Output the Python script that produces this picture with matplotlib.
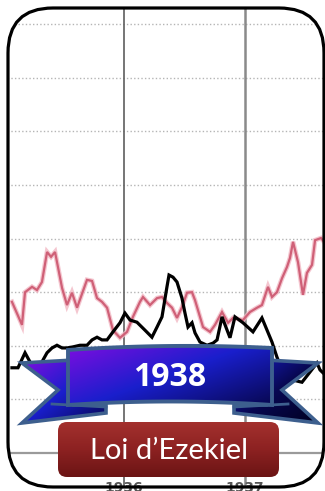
import numpy as np
import matplotlib
matplotlib.use("Agg")
import matplotlib.pyplot as plt
from matplotlib.patches import FancyBboxPatch, Polygon

# weekly index, two series (decimal years / index value)
rose_x = [1935.074, 1935.157, 1935.182, 1935.240, 1935.281, 1935.322, 1935.364, 1935.397,
          1935.430, 1935.488, 1935.529, 1935.570, 1935.612, 1935.694, 1935.736, 1935.777,
          1935.818, 1935.860, 1935.909, 1935.967, 1936.025, 1936.074, 1936.132, 1936.157,
          1936.215, 1936.273, 1936.314, 1936.355, 1936.397, 1936.438, 1936.479, 1936.521,
          1936.562, 1936.587, 1936.628, 1936.653, 1936.711, 1936.752, 1936.810, 1936.860,
          1936.901, 1936.983, 1937.041, 1937.099, 1937.140, 1937.190, 1937.223, 1937.264,
          1937.306, 1937.347, 1937.372, 1937.397, 1937.438, 1937.479, 1937.512, 1937.554,
          1937.579, 1937.628, 1937.661]
rose_y = [28.2, 23.9, 30.0, 31.0, 30.4, 31.9, 37.5, 36.6,
          37.5, 30.8, 27.6, 29.9, 27.1, 32.3, 32.1, 28.9,
          28.2, 27.1, 22.9, 21.5, 22.6, 25.4, 28.2, 29.1,
          27.6, 28.9, 29.1, 28.0, 27.1, 25.2, 27.2, 29.9,
          30.0, 28.5, 25.4, 23.5, 22.6, 23.9, 26.3, 24.3,
          25.2, 24.8, 26.3, 27.1, 27.6, 31.0, 29.1, 30.0,
          32.6, 34.7, 36.4, 39.4, 35.6, 29.5, 33.6, 35.1,
          39.7, 40.1, 39.2]

noir_x = [1935.074, 1935.124, 1935.182, 1935.223, 1935.264, 1935.289, 1935.322, 1935.364,
          1935.405, 1935.446, 1935.488, 1935.529, 1935.579, 1935.636, 1935.694, 1935.736,
          1935.777, 1935.818, 1935.860, 1935.909, 1935.967, 1936.008, 1936.050, 1936.107,
          1936.174, 1936.231, 1936.273, 1936.314, 1936.355, 1936.372, 1936.405, 1936.438,
          1936.479, 1936.504, 1936.529, 1936.562, 1936.587, 1936.628, 1936.686, 1936.736,
          1936.769, 1936.810, 1936.876, 1936.917, 1936.983, 1937.066, 1937.140, 1937.223,
          1937.264, 1937.306, 1937.397, 1937.471, 1937.537, 1937.595, 1937.620, 1937.661]
noir_y = [15.9, 15.9, 18.7, 17.0, 15.9, 15.5, 17.0, 18.7,
          19.6, 20.1, 19.6, 19.6, 19.8, 20.1, 20.1, 21.1,
          21.6, 21.1, 21.1, 22.6, 24.3, 26.1, 24.8, 24.4,
          22.9, 21.6, 23.5, 25.4, 31.0, 33.2, 32.8, 31.9,
          28.9, 26.1, 23.5, 24.3, 22.4, 20.7, 20.1, 20.5,
          21.1, 25.4, 21.5, 25.4, 24.3, 22.6, 25.2, 20.7,
          17.9, 15.5, 13.6, 13.2, 15.1, 16.8, 15.5, 14.6]

annees = [1936, 1937]
grille = [10, 20, 30, 40, 50, 60, 70, 80]
titre = "1938"
bouton = "Loi d\u2019Ezekiel"

W, H = 325, 491
fig = plt.figure(figsize=(W / 100, H / 100), dpi=100)

# pixel-space layer for the card, ribbon and button
deco = fig.add_axes([0, 0, 1, 1], zorder=2)
deco.set_xlim(0, W)
deco.set_ylim(H, 0)
deco.axis("off")
deco.patch.set_alpha(0)

carte = FancyBboxPatch((8, 8), 316, 479, boxstyle="round,pad=0,rounding_size=45",
                       transform=deco.transData, facecolor="none", edgecolor="black", lw=2.3)

# chart layer
ax = fig.add_axes([0, 0, 1, 1], zorder=1)
px2x = lambda p: 1936 + (p - 124) / 121
px2y = lambda p: (453 - p) / 5.36
ax.set_xlim(px2x(0), px2x(W))
ax.set_ylim(px2y(H), px2y(0))
ax.axis("off")

clip_card = FancyBboxPatch((8, 8), 316, 479, boxstyle="round,pad=0,rounding_size=45",
                           transform=deco.transData, facecolor="none")

arts = []
for g in grille:
    arts.append(ax.axhline(g, color="#b5b5b5", lw=1.0, ls=(0, (1, 1.6))))
arts.append(ax.axhline(0, color="#9a9a9a", lw=1.6))
arts.append(ax.axvline(annees[0], color="#5e5e5e", lw=1.2))
arts.append(ax.axvline(annees[1], color="#8a8a8a", lw=1.8))
arts += ax.plot(rose_x, rose_y, color="#f2b8c4", lw=3.4, solid_joinstyle="miter", alpha=0.8)
arts += ax.plot(rose_x, rose_y, color="#cf6077", lw=1.6, solid_joinstyle="miter")
arts += ax.plot(noir_x, noir_y, color="black", lw=2.3, solid_joinstyle="miter")
for a in annees:
    arts.append(ax.text(a, px2y(481), str(a), ha="center", va="top", fontsize=10,
                        color="#555555", fontweight="bold"))
for art in arts:
    art.set_clip_path(clip_card)


def degrade(poly, couleurs, ext, sens=(0.5, 0.5), z=3):
    x0, x1, y0, y1 = ext
    u, v = np.meshgrid(np.linspace(0, 1, 200), np.linspace(0, 1, 120))
    t = np.clip(sens[0] * u + sens[1] * v, 0, 1)
    pos = np.linspace(0, 1, len(couleurs))
    rgb = np.dstack([np.interp(t, pos, [c[i] for c in couleurs]) for i in range(3)])
    im = deco.imshow(rgb, extent=(x0, x1, y1, y0), aspect="auto", zorder=z,
                     interpolation="bilinear")
    im.set_clip_path(poly)


bord = "#3d5f8e"
violet = (0.50, 0.05, 0.88)
bleu = (0.10, 0.12, 0.80)
marine = (0.03, 0.03, 0.32)

# ribbon tails
gauche = [(74, 360), (22, 363), (58, 390), (22, 423), (106, 413), (106, 405), (74, 405)]
droite = [(W - 1 - x + 20, y) if False else (340 - x, y) for x, y in gauche]
for pts, cols in ((gauche, [violet, bleu, marine]), (droite, [bleu, marine, (0, 0, 0.12)])):
    p = Polygon(pts, closed=True, transform=deco.transData, facecolor="none")
    xs = [q[0] for q in pts]
    ys = [q[1] for q in pts]
    degrade(p, cols, (min(xs), max(xs), min(ys), max(ys)), z=3)
    deco.add_patch(Polygon(pts, closed=True, facecolor="none", edgecolor=bord, lw=2.6,
                           joinstyle="miter", zorder=4))
deco.plot([52, 106], [404, 407], color=bord, lw=2, zorder=4)
deco.plot([288, 234], [404, 407], color=bord, lw=2, zorder=4)

# ribbon centre, slightly arched
s = np.linspace(0, 1, 40)
haut = [(68 + 204 * k, 350 - 12 * k * (1 - k) - 2 * k) for k in s]
bas = [(272 - 204 * k, 405 - 14 * k * (1 - k)) for k in s]
centre = haut + bas
p = Polygon(centre, closed=True, transform=deco.transData, facecolor="none")
degrade(p, [violet, bleu, marine], (68, 272, 344, 405), sens=(0.55, 0.45), z=5)
deco.add_patch(Polygon(centre, closed=True, facecolor="none", edgecolor=bord, lw=2.8,
                       joinstyle="miter", zorder=6))
deco.text(170, 377, titre, ha="center", va="center", color="white", fontsize=23,
          fontweight="bold", family="Open Sans", zorder=7)

# red button
btn = FancyBboxPatch((58, 422), 221, 55, boxstyle="round,pad=0,rounding_size=9",
                     transform=deco.transData, facecolor="none")
degrade(btn, [(0.64, 0.19, 0.18), (0.55, 0.13, 0.13), (0.42, 0.08, 0.08)],
        (58, 279, 422, 477), sens=(0, 1), z=5)
deco.text(169, 451, bouton, ha="center", va="center", color="white", fontsize=21,
          family="Lato", zorder=7)

deco.add_patch(carte)
deco.set_xlim(0, W)
deco.set_ylim(H, 0)

plt.savefig("out.png", dpi=100)
